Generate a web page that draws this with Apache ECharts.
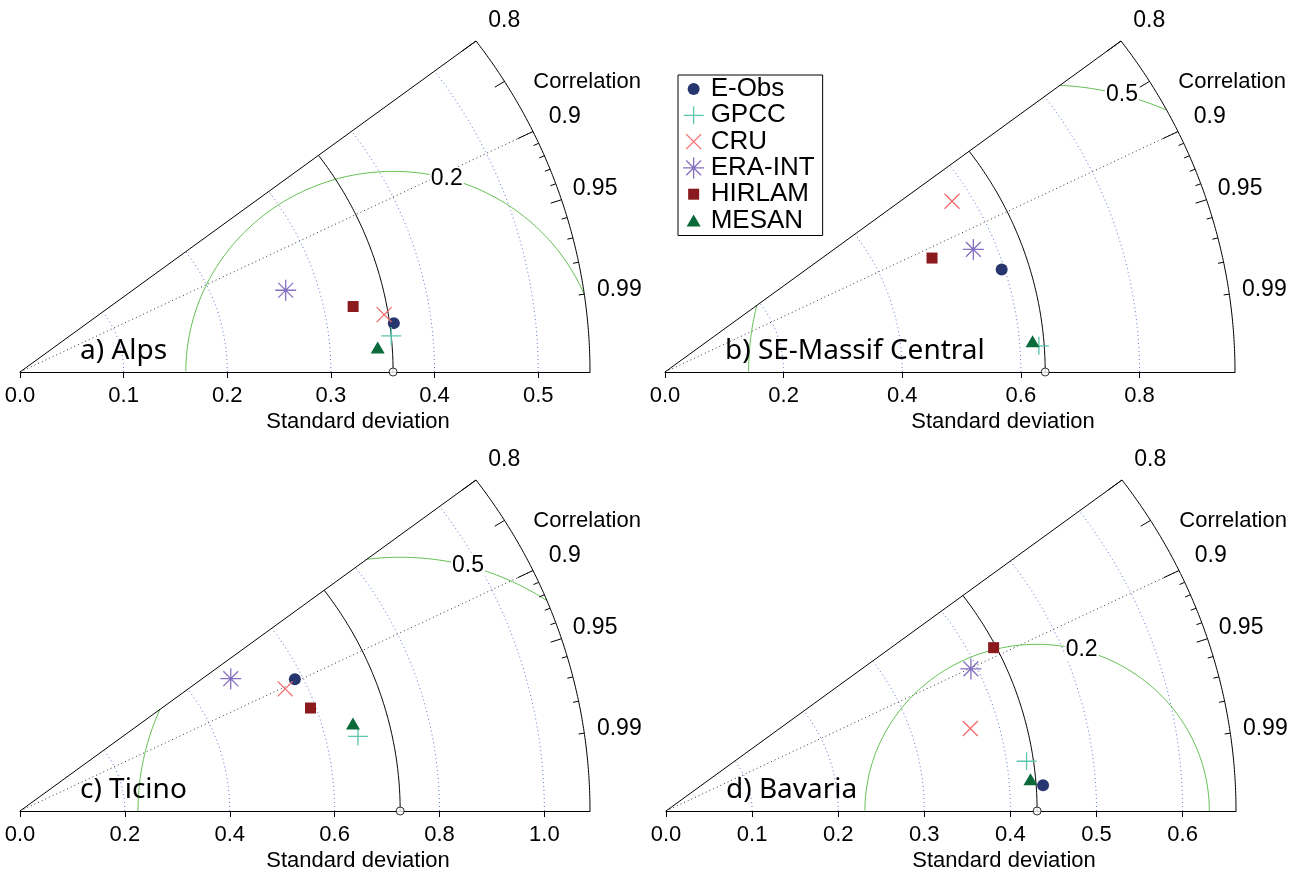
<!DOCTYPE html>
<html>
<head>
<meta charset="utf-8">
<title>Taylor diagrams</title>
<script src="https://cdn.jsdelivr.net/npm/echarts@6/dist/echarts.min.js"></script>
<style>
  html, body { margin: 0; padding: 0; background: #fff; }
  #chart { width: 1303px; height: 874px; }
</style>
</head>
<body>
<div id="chart"></div>
<script>
(function () {
    'use strict';

    var MODELS = ['E-Obs', 'GPCC', 'CRU', 'ERA-INT', 'HIRLAM', 'MESAN'];
    var PANEL_TITLES = ['a) Alps', 'b) SE-Massif Central', 'c) Ticino', 'd) Bavaria'];

    // observed standard deviation (reference point) of each region
    var REF_SD = [0.36, 0.641, 0.725, 0.431];
    // outer radius of each diagram
    var MAX_SD = [0.55, 0.961, 1.087, 0.662];
    // centred RMS difference contour drawn in each panel
    var RMS_LEVEL = [0.2, 0.5, 0.5, 0.2];

    var SD_TICKS = [
        [0, 0.1, 0.2, 0.3, 0.4, 0.5],
        [0, 0.2, 0.4, 0.6, 0.8],
        [0, 0.2, 0.4, 0.6, 0.8, 1.0],
        [0, 0.1, 0.2, 0.3, 0.4, 0.5, 0.6]
    ];
    var CORR_LABELS = [0.8, 0.9, 0.95, 0.99];
    var CORR_BIG = [0.8, 0.9];
    var CORR_MED = [0.85, 0.95];
    var CORR_SMALL = [0.91, 0.92, 0.93, 0.94, 0.96, 0.97, 0.98, 0.99];

    // per dataset, same order as MODELS
    var SD_ALPS = [0.364, 0.360, 0.356, 0.269, 0.328, 0.346];
    var COR_ALPS = [0.991, 0.995, 0.987, 0.953, 0.980, 0.9975];
    var SD_MASSIF = [0.595, 0.632, 0.568, 0.562, 0.492, 0.622];
    var COR_MASSIF = [0.954, 0.9974, 0.852, 0.925, 0.915, 0.9963];
    var SD_TICINO = [0.585, 0.661, 0.560, 0.479, 0.590, 0.658];
    var COR_TICINO = [0.896, 0.975, 0.903, 0.839, 0.939, 0.965];
    var SD_BAVARIA = [0.439, 0.423, 0.367, 0.393, 0.428, 0.425];
    var COR_BAVARIA = [0.9975, 0.990, 0.963, 0.901, 0.889, 0.996];

    var PANEL_SD = [SD_ALPS, SD_MASSIF, SD_TICINO, SD_BAVARIA];
    var PANEL_COR = [COR_ALPS, COR_MASSIF, COR_TICINO, COR_BAVARIA];

    var COLORS = ['#283670', '#5cc6ae', '#f26a6a', '#8470c0', '#8a1a1c', '#0b6a3a'];
    var STROKED = [false, true, true, true, false, false];
    // all symbols share a 24 x 24 box so relative sizes survive scaling
    var BOX = 'M0 0M24 24';
    var SYMBOLS = [
        'path://' + BOX + 'M18 12A6 6 0 1 1 6 12A6 6 0 1 1 18 12Z',
        'path://' + BOX + 'M2 12H22M12 3V21',
        'path://' + BOX + 'M4.5 4.5L19.5 19.5M19.5 4.5L4.5 19.5',
        'path://' + BOX + 'M1.5 12H22.5M12 1.5V22.5M4.6 4.6L19.4 19.4M19.4 4.6L4.6 19.4',
        'path://' + BOX + 'M6.5 6.5H17.5V17.5H6.5Z',
        'path://' + BOX + 'M12 6L19 18H5Z'
    ];

    var GRIDS = [
        { left: 20, top: 41 },
        { left: 665, top: 41 },
        { left: 20, top: 480 },
        { left: 666, top: 480 }
    ];
    var TH_MAX = Math.acos(0.8);
    var HELV = '"Liberation Sans", Arial, sans-serif';

    /* ------------------------------------------------------------------ */
    /*  Geometry helpers                                                   */
    /* ------------------------------------------------------------------ */

    function arc(r, n) {
        var pts = [];
        for (var i = 0; i <= n; i++) {
            var t = TH_MAX * i / n;
            pts.push([r * Math.cos(t), r * Math.sin(t)]);
        }
        return pts;
    }

    function rmsSegments(ref, rms, R) {
        var segs = [], cur = [];
        for (var i = 0; i <= 2000; i++) {
            var t = Math.PI * i / 2000;
            var x = ref + rms * Math.cos(t), y = rms * Math.sin(t);
            var r = Math.sqrt(x * x + y * y);
            if (x > 0 && r <= R && x / r >= 0.8) {
                cur.push([x, y]);
            } else if (cur.length) {
                segs.push(cur);
                cur = [];
            }
        }
        if (cur.length) segs.push(cur);
        return segs;
    }

    function lineSeries(p, data, color, type, width, z) {
        return {
            type: 'line', xAxisIndex: p, yAxisIndex: p, data: data,
            symbol: 'none', showSymbol: false, silent: true, clip: false,
            lineStyle: { color: color, type: type, width: width },
            z: z || 2
        };
    }

    function polarPt(sd, c) {
        return [sd * c, sd * Math.sqrt(1 - c * c)];
    }

    /* ------------------------------------------------------------------ */
    /*  Build one panel                                                    */
    /* ------------------------------------------------------------------ */

    var xAxes = [], yAxes = [], series = [];

    function buildPanel(p) {
        var R = MAX_SD[p], ref = REF_SD[p], rms = RMS_LEVEL[p];

        xAxes.push({
            type: 'value', gridIndex: p, min: 0, max: R,
            axisLine: { lineStyle: { color: '#000', width: 1 } },
            axisTick: { customValues: SD_TICKS[p], length: 6, inside: false,
                        lineStyle: { color: '#000', width: 1 } },
            axisLabel: { customValues: SD_TICKS[p], color: '#000', fontSize: 22,
                         fontFamily: HELV, margin: 13,
                         formatter: function (v) { return v.toFixed(1); } },
            splitLine: { show: false }
        });
        yAxes.push({ type: 'value', gridIndex: p, min: 0, max: 0.6 * R, show: false });

        // outer boundary: arc + upper ray
        var outer = arc(R, 240);
        outer.push([0, 0]);
        series.push(lineSeries(p, outer, '#000', 'solid', 1, 3));

        // standard deviation grid arcs
        SD_TICKS[p].forEach(function (s) {
            if (s > 0 && s < R) series.push(lineSeries(p, arc(s, 200), '#5877d6', [1, 3], 1));
        });

        // observed standard deviation arc
        series.push(lineSeries(p, arc(ref, 200), '#000', 'solid', 1, 3));

        // correlation 0.9 ray
        series.push(lineSeries(p, [[0, 0], polarPt(R, 0.9)], '#333', [1, 3], 1));

        // RMS contour
        rmsSegments(ref, rms, R).forEach(function (seg) {
            series.push(lineSeries(p, seg, '#62c050', 'solid', 1, 2));
        });

        // correlation ticks on the outer arc
        var tickData = [];
        CORR_BIG.forEach(function (c) { tickData.push([c, 0.97]); });
        CORR_MED.forEach(function (c) { tickData.push([c, 0.98]); });
        CORR_SMALL.forEach(function (c) { tickData.push([c, 0.99]); });
        series.push({
            type: 'custom', xAxisIndex: p, yAxisIndex: p, silent: true, z: 3,
            data: tickData,
            renderItem: function (params, api) {
                var c = api.value(0), f = api.value(1);
                var a = api.coord(polarPt(R, c)), b = api.coord(polarPt(f * R, c));
                return { type: 'line', shape: { x1: a[0], y1: a[1], x2: b[0], y2: b[1] },
                         style: { stroke: '#000', lineWidth: 1 } };
            }
        });

        // text annotations
        series.push({
            type: 'custom', xAxisIndex: p, yAxisIndex: p, silent: true, z: 4,
            data: [[0, 0]],
            renderItem: function (params, api) {
                var kids = [];
                function txt(pt, s, font, align, extra) {
                    var st = { text: s, x: pt[0], y: pt[1], fill: '#000', font: font,
                               align: align || 'center', verticalAlign: 'middle' };
                    if (extra) Object.keys(extra).forEach(function (k) { st[k] = extra[k]; });
                    kids.push({ type: 'text', style: st });
                }
                CORR_LABELS.forEach(function (c) {
                    txt(api.coord(polarPt(1.062 * R, c)), String(c), '23px ' + HELV);
                });
                txt(api.coord([0.995 * R, 0.525 * R]), 'Correlation', '22px ' + HELV);
                var lt = Math.PI * 75 / 180;
                txt(api.coord([ref + rms * Math.cos(lt), rms * Math.sin(lt)]), String(rms),
                    '23px ' + HELV, 'center', { backgroundColor: '#fff', padding: [0, 1] });
                var o = api.coord([0, 0]);
                txt([o[0] + 60, o[1] - 21], PANEL_TITLES[p], '28px "Noto Sans", sans-serif', 'left');
                var sx = api.coord([0.593 * R, 0]);
                txt([sx[0], sx[1] + 50], 'Standard deviation', '22px ' + HELV);
                return { type: 'group', children: kids };
            }
        });

        // datasets
        MODELS.forEach(function (name, m) {
            series.push({
                type: 'scatter', name: name, xAxisIndex: p, yAxisIndex: p,
                symbol: SYMBOLS[m], symbolSize: 24, silent: true, z: 6,
                data: [polarPt(PANEL_SD[p][m], PANEL_COR[p][m])],
                itemStyle: STROKED[m]
                    ? { color: 'transparent', borderColor: COLORS[m], borderWidth: 1.3, opacity: 1 }
                    : { color: COLORS[m], borderWidth: 0, opacity: 1 }
            });
        });

        // reference point
        series.push({
            type: 'scatter', xAxisIndex: p, yAxisIndex: p, silent: true, z: 7,
            symbol: 'circle', symbolSize: 8, data: [[ref, 0]],
            itemStyle: { color: '#fff', borderColor: '#000', borderWidth: 1 }
        });
    }

    for (var p = 0; p < 4; p++) buildPanel(p);

    var chart = echarts.init(document.getElementById('chart'), null, { renderer: 'canvas' });
    chart.setOption({
        animation: false,
        backgroundColor: '#fff',
        grid: GRIDS.map(function (g) {
            return { left: g.left, top: g.top, width: 570, height: 331 };
        }),
        xAxis: xAxes,
        yAxis: yAxes,
        legend: {
            orient: 'vertical', left: 678, top: 75,
            padding: [1, 8, 2, 3], itemGap: 0.3,
            itemWidth: 24, itemHeight: 24,
            borderColor: '#000', borderWidth: 1, borderRadius: 0,
            selectedMode: false,
            textStyle: { fontSize: 26, fontFamily: HELV, color: '#000', lineHeight: 24 },
            data: MODELS.map(function (name, m) {
                return { name: name, itemStyle: { borderWidth: STROKED[m] ? 1.3 : 0 } };
            })
        },
        series: series
    });
})();
</script>
</body>
</html>
